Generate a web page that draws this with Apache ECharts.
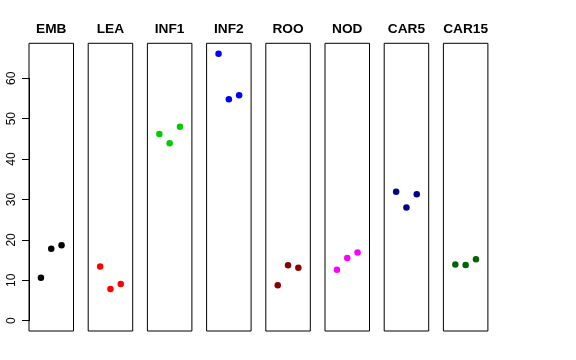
<!DOCTYPE html>
<html><head><meta charset="utf-8">
<script src="https://cdn.jsdelivr.net/npm/echarts@6/dist/echarts.min.js"></script>
<style>html,body{margin:0;padding:0;background:#fff}#c{width:576px;height:360px}</style>
</head><body><div id="c"></div>
<script>
const groups = ['EMB','LEA','INF1','INF2','ROO','NOD','CAR5','CAR15'];
const colors = ['#000000','#FF0000','#00CD00','#0000FF','#8B0000','#FF00FF','#00008B','#006400'];
const replicate = [1, 2, 3];
const EMB = [10.6, 17.8, 18.7];
const LEA = [13.4, 7.85, 9.1];
const INF1 = [46.2, 43.9, 48.0];
const INF2 = [66.1, 54.8, 55.8];
const ROO = [8.8, 13.7, 13.1];
const NOD = [12.6, 15.5, 16.9];
const CAR5 = [31.9, 28.0, 31.3];
const CAR15 = [13.9, 13.8, 15.2];
const values = [EMB, LEA, INF1, INF2, ROO, NOD, CAR5, CAR15];
const yTicks = [0, 10, 20, 30, 40, 50, 60];

const panelLeft = 29, panelStep = 59.2, panelW = 44.5, panelTop = 43.3, panelH = 287.7;
const yMin = -2.55, yMax = 68.66;
const pxPerUnit = panelH / (yMax - yMin);

const grids = [], xAxes = [], yAxes = [], series = [], titles = [];
groups.forEach((g, i) => {
  const left = panelLeft + i * panelStep;
  grids.push({left: left, top: panelTop, width: panelW, height: panelH, show: true,
    borderColor: '#000', borderWidth: 1, backgroundColor: 'transparent'});
  xAxes.push({gridIndex: i, type: 'value', min: -0.16, max: 4.16, show: false});
  yAxes.push({gridIndex: i, type: 'value', min: yMin, max: yMax, show: false});
  series.push({type: 'scatter', xAxisIndex: i, yAxisIndex: i, symbolSize: 6.5,
    itemStyle: {color: colors[i], opacity: 1},
    data: replicate.map((r, k) => [r, values[i][k]])});
  titles.push({text: g, left: left + panelW / 2, top: 22, padding: 0, textAlign: 'center',
    textStyle: {fontFamily: 'Liberation Sans', fontWeight: 'bold', fontSize: 13.7, color: '#000', lineHeight: 15}});
});
// axis-only grid spanning 0..60
const axTop = panelTop + (yMax - yTicks[yTicks.length-1]) * pxPerUnit;
const axH = (yTicks[yTicks.length-1] - yTicks[0]) * pxPerUnit;
grids.push({left: panelLeft, top: axTop, width: panelW, height: axH, show: false});
xAxes.push({gridIndex: 8, type: 'value', min: 0, max: 1, show: false});
yAxes.push({gridIndex: 8, type: 'value', min: yTicks[0], max: yTicks[yTicks.length-1], interval: 10,
  axisLine: {show: true, lineStyle: {color: '#000', width: 1}},
  axisTick: {show: true, length: 7, lineStyle: {color: '#000'}},
  splitLine: {show: false},
  axisLabel: {rotate: 90, margin: 11, fontSize: 12, fontFamily: 'Liberation Sans', color: '#000'}});

const chart = echarts.init(document.getElementById('c'), null, {renderer: 'canvas'});
chart.setOption({animation: false, backgroundColor: '#fff', title: titles,
  grid: grids, xAxis: xAxes, yAxis: yAxes, series: series});
</script></body></html>
